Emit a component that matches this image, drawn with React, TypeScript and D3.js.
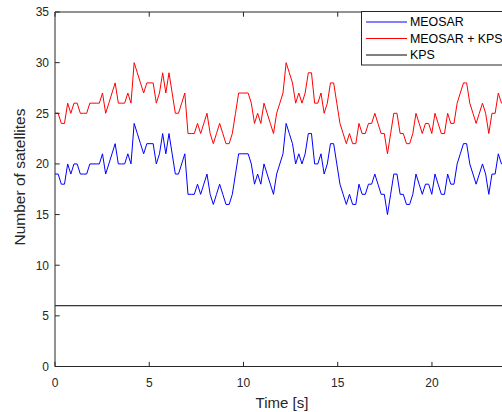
import React from "react";
import * as d3 from "d3";

// Number of MEOSAR satellites in view, sampled every ~0.168 s
const meosar: number[] = [
  19, 19, 18, 18, 20, 19, 20, 20, 19, 19,
  19, 20, 20, 20, 20, 21, 19, 20, 21, 22,
  20, 20, 20, 21, 20, 24, 23, 22, 21, 22,
  22, 22, 20, 21, 23, 21, 23, 21, 19, 19,
  20, 21, 17, 17, 17, 18, 17, 18, 19, 17,
  16, 17, 18, 17, 16, 16, 17, 19, 21, 21,
  21, 21, 20, 18, 19, 18, 20, 19, 18, 17,
  19, 20, 21, 24, 23, 22, 20, 21, 20, 21,
  23, 23, 20, 20, 21, 19, 20, 22, 22, 20,
  18, 17, 16, 17, 16, 16, 18, 17, 17, 18,
  18, 19, 18, 17, 17, 15, 17, 19, 19, 17,
  17, 16, 16, 17, 19, 18, 17, 18, 18, 17,
  19, 18, 17, 17, 19, 18, 18, 20, 21, 22,
  22, 20, 19, 18, 19, 20, 19, 17, 19, 19,
  21, 20, 20,
];
const kps: number[] = meosar.map(() => 6);
const sampleStep = 0.168;
const xTicks = [0, 5, 10, 15, 20];
const yTicks = [0, 5, 10, 15, 20, 25, 30, 35];
const seriesNames = ["MEOSAR", "MEOSAR + KPS", "KPS"];
const seriesColors = ["#0000ff", "#ff0000", "#000000"];

const W = 502;
const H = 412;
const axisColor = "#262626";
const font = "'Liberation Sans', Arial, Helvetica, sans-serif";

export default function App() {
  const x = d3.scaleLinear().domain([0, 25]).range([55, 526.2]);
  const y = d3.scaleLinear().domain([0, 35]).range([366.5, 12]);

  const times = meosar.map((_, i) => i * sampleStep);
  const combined = meosar.map((v, i) => v + kps[i]);

  const line = d3
    .line<number>()
    .x((_, i) => x(times[i]))
    .y((d) => y(d));

  const kpsLine = d3
    .line<number>()
    .x((d) => x(d))
    .y(() => y(kps[0]));

  const [x0, x1] = x.range();
  const [yb, yt] = y.range();

  return (
    <svg
      width={W}
      height={H}
      style={{ position: "absolute", left: 0, top: 0, background: "#fff", overflow: "hidden" }}
      fontFamily={font}
    >
      <rect x={0} y={0} width={W} height={H} fill="#ffffff" />
      {/* series */}
      <path d={line(meosar) || ""} fill="none" stroke={seriesColors[0]} strokeWidth={1} />
      <path d={line(combined) || ""} fill="none" stroke={seriesColors[1]} strokeWidth={1} />
      <path d={kpsLine([0, 25]) || ""} fill="none" stroke={seriesColors[2]} strokeWidth={1} />

      {/* axes box */}
      <line x1={x0} x2={x1} y1={yb} y2={yb} stroke={axisColor} strokeWidth={1} />
      <line x1={x0} x2={x1} y1={yt} y2={yt} stroke={axisColor} strokeWidth={1} />
      <line x1={x0} x2={x0} y1={yt} y2={yb} stroke={axisColor} strokeWidth={1} />

      {xTicks.map((t) => (
        <g key={"xt" + t}>
          <line x1={x(t)} x2={x(t)} y1={yb} y2={yb - 4.7} stroke={axisColor} />
          <line x1={x(t)} x2={x(t)} y1={yt} y2={yt + 4.7} stroke={axisColor} />
          <text x={x(t)} y={yb + 20.5} textAnchor="middle" fontSize={12} fill={axisColor}>
            {t}
          </text>
        </g>
      ))}
      {yTicks.map((t) => (
        <g key={"yt" + t}>
          <line x1={x0} x2={x0 + 4.7} y1={y(t)} y2={y(t)} stroke={axisColor} />
          <text x={x0 - 6} y={y(t) + 4.3} textAnchor="end" fontSize={12} fill={axisColor}>
            {t}
          </text>
        </g>
      ))}

      <text x={282} y={408} textAnchor="middle" fontSize={15} fill={axisColor}>
        Time [s]
      </text>
      <text
        transform={`translate(25,177) rotate(-90)`}
        textAnchor="middle"
        fontSize={15.5}
        fill={axisColor}
      >
        Number of satellites
      </text>

      {/* legend */}
      <rect x={361.5} y={11.5} width={160} height={53.5} fill="#ffffff" stroke={axisColor} strokeWidth={1} />
      {seriesNames.map((name, i) => {
        const ly = 22 + i * 16.5;
        return (
          <g key={name}>
            <line x1={366} x2={407} y1={ly} y2={ly} stroke={seriesColors[i]} strokeWidth={1} />
            <text x={410} y={ly + 4.4} fontSize={12.4} fill="#000">
              {name}
            </text>
          </g>
        );
      })}
    </svg>
  );
}
